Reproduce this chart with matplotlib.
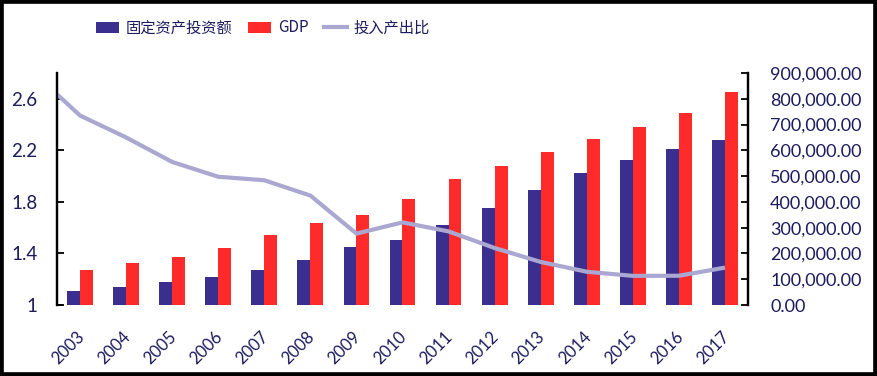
import matplotlib
matplotlib.use("Agg")
import matplotlib.pyplot as plt
from matplotlib.patches import Patch, Rectangle
from matplotlib.lines import Line2D
import matplotlib.transforms as mtransforms
import numpy as np

years = ["2003", "2004", "2005", "2006", "2007", "2008", "2009", "2010",
         "2011", "2012", "2013", "2014", "2015", "2016", "2017"]
investment = [55567, 70477, 88774, 109998, 137324, 172828, 224599, 251684,
              311485, 374695, 446294, 512021, 561999, 606466, 641238]
gdp = [137422, 161840, 187319, 219439, 270232, 319516, 349081, 413030,
       489301, 540367, 595244, 643974, 689052, 744127, 827122]
# ratio series begins one year earlier (2002), partly clipped at the axis edge
ratio_years = ["2002"] + years
ratio = [2.80, 2.47, 2.30, 2.11, 1.995, 1.968, 1.849, 1.554, 1.641,
         1.571, 1.442, 1.334, 1.258, 1.226, 1.227, 1.290]

left_ticks = [1, 1.4, 1.8, 2.2, 2.6]
left_labels = ["1", "1.4", "1.8", "2.2", "2.6"]
right_ticks = [0, 100000, 200000, 300000, 400000, 500000, 600000, 700000, 800000, 900000]

series_names = ["固定资产投资额", "GDP", "投入产出比"]

BLUE = "#3a2e8e"
RED = "#ff2b2b"
LINE = "#aaa7d1"
NAVY = "#1b1b5e"
CJK = ["Noto Sans CJK SC", "DejaVu Sans"]
NUM = ["Lato", "DejaVu Sans"]

fig = plt.figure(figsize=(8.77, 3.76), dpi=100)
ax = fig.add_axes([57/877, 1-305/376, (748-57)/877, (305-73)/376])
ax2 = ax.twinx()

x = np.arange(len(years))
w = 0.28
ax.bar(x - w/2, investment, width=w, color=BLUE, zorder=2)
ax.bar(x + w/2, gdp, width=w, color=RED, zorder=2)
ax.set_xlim(-0.5, len(years) - 0.5)
ax.set_ylim(0, 900000)

xr = np.arange(len(ratio_years)) - 1
ax2.plot(xr, ratio, color=LINE, lw=3, solid_joinstyle="round", solid_capstyle="butt")
ax2.set_ylim(1, 2.8)
ax2.set_xlim(-0.5, len(years) - 0.5)

# bar axis -> right side
ax.yaxis.tick_right()
ax.set_yticks(right_ticks)
ax.set_yticklabels([f"{v:,.2f}" for v in right_ticks], fontfamily=NUM, fontsize=13, color=NAVY)
ax.tick_params(axis="y", direction="in", length=5, width=1.3, pad=16, right=True, left=False)
# line axis -> left side
ax2.yaxis.tick_left()
ax2.set_yticks(left_ticks)
ax2.set_yticklabels(left_labels, fontfamily=NUM, fontsize=13.5, color=NAVY)
ax2.tick_params(axis="y", direction="in", length=5, width=1.3, pad=14, left=True, right=False)

ax.set_xticks(x)
ax.set_xticklabels(years, rotation=45, ha="right", va="top", rotation_mode="anchor",
                   fontfamily=NUM, fontsize=12, color=NAVY)
ax.tick_params(axis="x", length=0, pad=17)
shift = mtransforms.ScaledTranslation(-4/100, 0, fig.dpi_scale_trans)
for lbl in ax.get_xticklabels():
    lbl.set_transform(lbl.get_transform() + shift)

for a in (ax, ax2):
    a.spines["top"].set_visible(False)
    a.spines["bottom"].set_visible(False)
    a.spines["left"].set_linewidth(1.6)
    a.spines["right"].set_linewidth(1.6)
    a.patch.set_visible(False)

# bottom tick mark at the left end forming the bracket shape
ax2.plot([-0.5, -0.5 + 0.1], [1, 1], color="black", lw=1.3, clip_on=False)

handles = [Patch(facecolor=BLUE, edgecolor="none"),
           Patch(facecolor=RED, edgecolor="none"),
           Line2D([0], [0], color=LINE, lw=3)]
leg = fig.legend(handles, series_names, loc="center", bbox_to_anchor=(263/877, 1-28/376),
                 ncol=3, frameon=False, prop={"family": CJK, "size": 11},
                 handlelength=1.5, handleheight=0.75, handletextpad=0.45, columnspacing=1.0)
for t in leg.get_texts():
    t.set_color(NAVY)

fig.patches.append(Rectangle((0, 0), 1, 1, transform=fig.transFigure, fill=False,
                             edgecolor="black", lw=5.5, zorder=10))

fig.savefig("out.png", dpi=100)
